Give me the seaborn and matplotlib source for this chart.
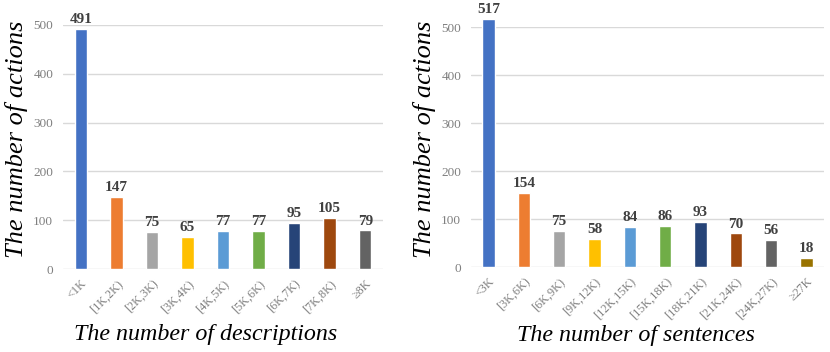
import matplotlib
matplotlib.use("Agg")
import matplotlib.pyplot as plt
import seaborn as sns
import pandas as pd

# left panel data
desc_bins = ["<1K", "[1K,2K)", "[2K,3K)", "[3K,4K)", "[4K,5K)", "[5K,6K)", "[6K,7K)", "[7K,8K)", "≥8K"]
desc_counts = [491, 147, 75, 65, 77, 77, 95, 105, 79]

# right panel data
sent_bins = ["<3K", "[3K,6K)", "[6K,9K)", "[9K,12K)", "[12K,15K)", "[15K,18K)", "[18K,21K)", "[21K,24K)", "[24K,27K)", "≥27K"]
sent_counts = [517, 154, 75, 58, 84, 86, 93, 70, 56, 18]

colors = ["#4472C4", "#ED7D31", "#A5A5A5", "#FFC000", "#5B9BD5",
          "#70AD47", "#264478", "#9E480E", "#636363", "#997300"]

sns.set_style("white")
plt.rcParams['font.family'] = ['Liberation Serif', 'DejaVu Serif']

fig = plt.figure(figsize=(8.3, 3.52), dpi=100)
W, H = 830, 352

def make_axes(x0, x1, y_top, y_bot):
    return fig.add_axes([x0 / W, 1 - y_bot / H, (x1 - x0) / W, (y_bot - y_top) / H])

def draw(ax, bins, counts, xlabel):
    df = pd.DataFrame({"bin": bins, "count": counts})
    sns.barplot(data=df, x="bin", y="count", hue="bin", palette=colors[:len(bins)],
                width=0.35, legend=False, ax=ax, saturation=1)
    for p in ax.patches:
        p.set_clip_on(False)
    for i, v in enumerate(counts):
        ax.text(i, v + 6, str(v), ha="center", va="bottom", fontsize=11,
                fontweight="bold", color="#404040")
    ax.set_ylim(0, 500)
    ax.set_xlim(-0.5, len(bins) - 0.5)
    ax.set_yticks([0, 100, 200, 300, 400, 500])
    ax.yaxis.grid(True, color="#D9D9D9", linewidth=1)
    ax.set_axisbelow(True)
    for s in ax.spines.values():
        s.set_visible(False)
    ax.tick_params(axis="y", length=0, labelsize=9.5, colors="#7F7F7F", pad=7)
    ax.tick_params(axis="x", length=0, labelsize=8.7, colors="#7F7F7F", pad=6)
    plt.setp(ax.get_xticklabels(), rotation=45, ha="right", rotation_mode="anchor")
    ax.set_xlabel(xlabel, fontsize=17.3, style="italic", color="black")
    ax.set_ylabel("The number of actions", fontsize=19, style="italic", color="black")

ax1 = make_axes(63, 383, 25, 269)
draw(ax1, desc_bins, desc_counts, "The number of descriptions")
ax1.yaxis.set_label_coords(-0.11, 0.53)
ax1.xaxis.set_label_coords(0.447, -0.225)

ax2 = make_axes(471, 824, 27, 267)
draw(ax2, sent_bins, sent_counts, "The number of sentences")
ax2.yaxis.set_label_coords(-0.10, 0.53)
ax2.xaxis.set_label_coords(0.467, -0.24)

fig.savefig("out.png", dpi=100)
